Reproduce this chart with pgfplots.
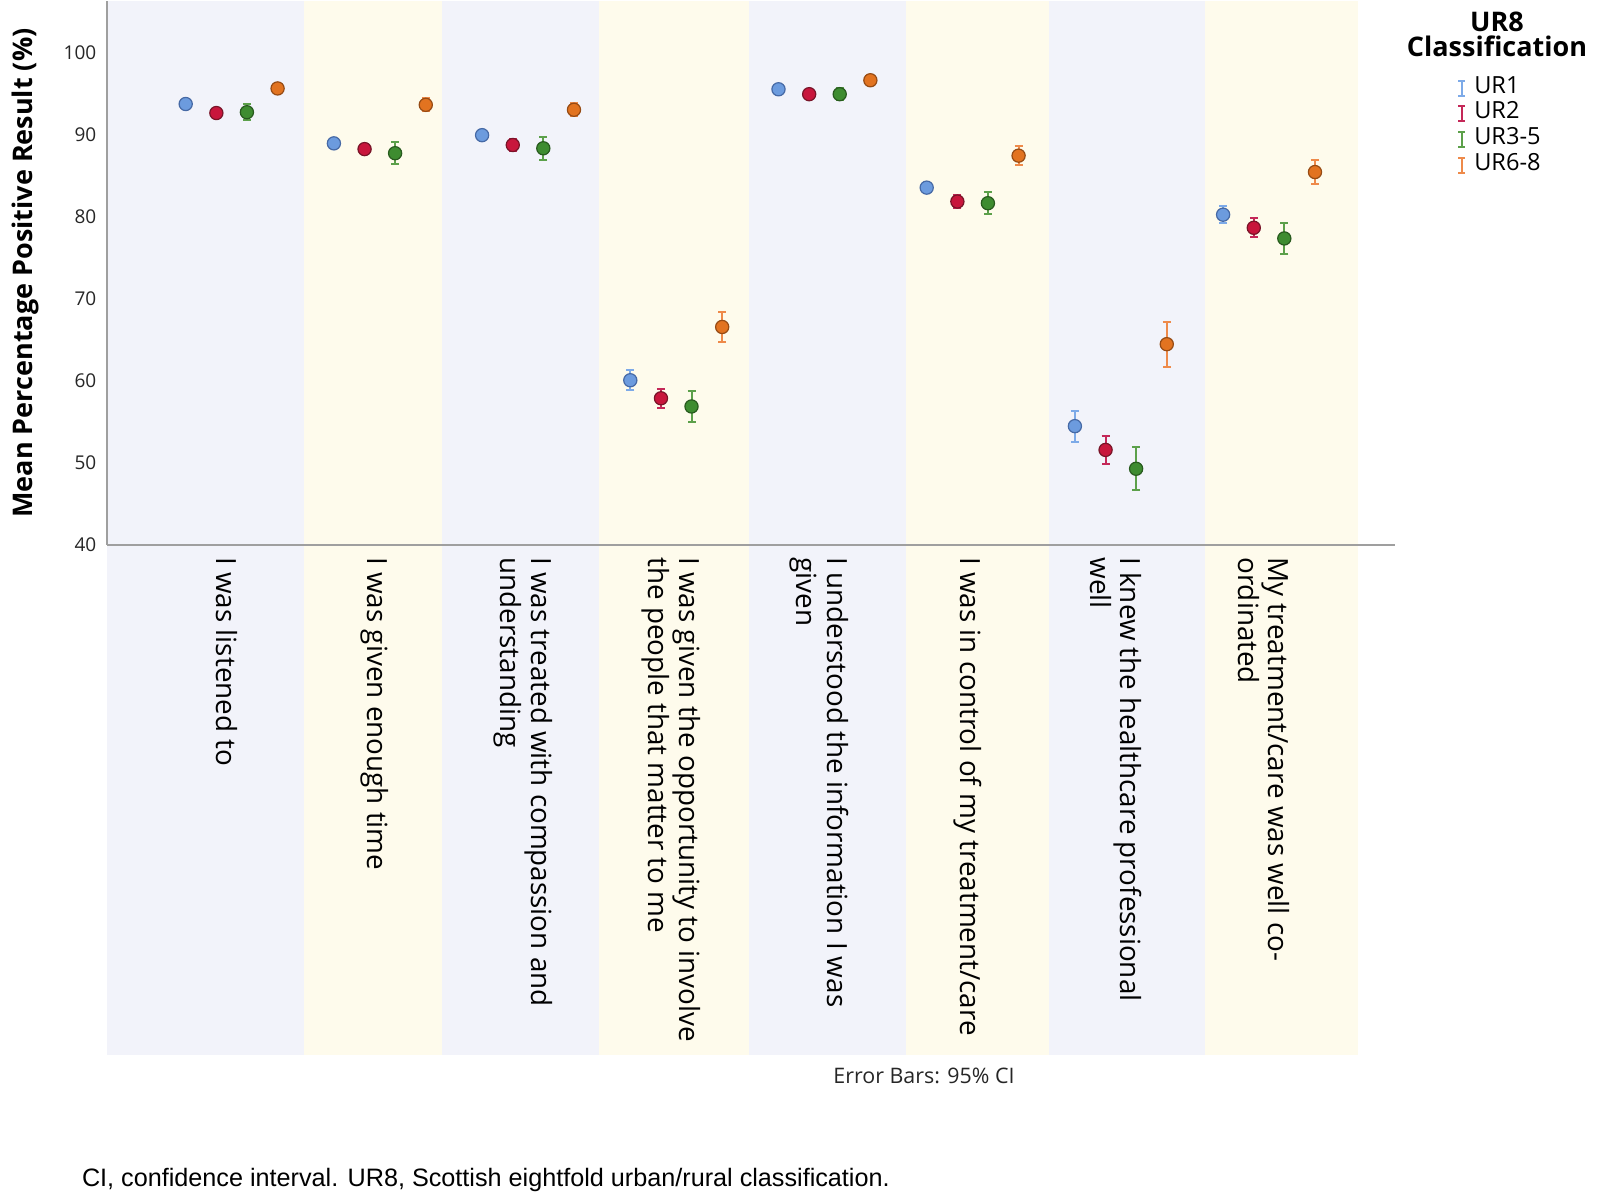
\documentclass[border=0pt]{standalone}
\usepackage{fontspec}
\setmainfont{Open Sans}
\newfontfamily\capfont{Liberation Sans}
\usepackage{pgfplots}
\pgfplotsset{compat=1.18}
\definecolor{lav}{RGB}{242,243,250}
\definecolor{crm}{RGB}{254,251,236}
\definecolor{ur1fill}{RGB}{108,155,222}
\definecolor{ur1line}{RGB}{70,105,165}
\definecolor{ur1bar}{RGB}{125,170,232}
\definecolor{ur2fill}{RGB}{200,22,60}
\definecolor{ur2line}{RGB}{120,20,40}
\definecolor{ur2bar}{RGB}{196,40,88}
\definecolor{ur3fill}{RGB}{62,140,48}
\definecolor{ur3line}{RGB}{40,90,30}
\definecolor{ur3bar}{RGB}{92,160,74}
\definecolor{ur6fill}{RGB}{226,115,32}
\definecolor{ur6line}{RGB}{150,75,20}
\definecolor{ur6bar}{RGB}{238,138,74}
\pgfplotsset{
  ser/.style n args={3}{
    only marks, mark=*, mark size=3.3pt,
    mark options={fill=#1, draw=#2, line width=0.6pt},
    legend image code/.code={\draw[#3, line width=1pt] (0pt,-3.75pt)--(3.5pt,-3.75pt) (1.75pt,-3.75pt)--(1.75pt,3.75pt) (0pt,3.75pt)--(3.5pt,3.75pt);},
    error bars/.cd, y dir=both, y explicit,
    error bar style={#3, line width=1pt},
    error mark=|,
    error mark options={#3, mark size=2pt, line width=1pt}
  },
  band/.style={on layer=axis background, fill=#1, draw=none, forget plot}
}
\begin{document}
\begin{tikzpicture}
\path (0,0) rectangle (800pt,599pt);
\begin{axis}[
  at={(53.5pt,327pt)}, anchor=south west,
  scale only axis, width=644pt, height=272pt,
  xmin=-0.841, xmax=7.85, ymin=40, ymax=106.37,
  clip=false, set layers,
  axis x line*=bottom, axis y line*=left,
  axis line style={-, draw=gray!75, line width=1pt},
  major tick length=0pt,
  xtick={0,1,2,3,4,5,6,7},
  xticklabels={{I was listened to},{I was given enough time},{I was treated with compassion and\\understanding},{I was given the opportunity to involve\\the people that matter to me},{I understood the information I was\\given},{I was in control of my treatment/care},{I knew the healthcare professional\\well},{My treatment/care was well co-\\ordinated}},
  xticklabel style={font=\fontsize{13.9}{15.3}\selectfont, inner sep=0pt, yshift=-6pt, xshift=-2.5pt, rotate=-90, anchor=west, align=left, text=black},
  ytick={40,50,60,70,80,90,100},
  yticklabel style={font=\fontsize{9.5}{11}\selectfont, xshift=-1.8pt, text=black!85},
  /pgf/number format/assume math mode=true,
  ylabel={Mean Percentage Positive Result (\%)},
  ylabel style={font=\bfseries\fontsize{13.5}{16}\selectfont, at={(axis description cs:-0.0633,0.5)}, anchor=center},
  legend style={draw=none, fill=none, inner sep=0pt, at={(1.048,0.8616)}, anchor=north west,
    font=\fontsize{11.8}{13}\selectfont, nodes={inner ysep=0.7pt, text height=0.75em, text depth=0.25em},
    row sep=1.55pt, /tikz/every odd column/.append style={column sep=2pt}},
  legend cell align=left,
]
\addplot[band=lav] coordinates {(-0.841,-22.2) (0.489,-22.2) (0.489,106.37) (-0.841,106.37)} -- cycle;
\addplot[band=crm] coordinates {(0.489,-22.2) (1.419,-22.2) (1.419,106.37) (0.489,106.37)} -- cycle;
\addplot[band=lav] coordinates {(1.419,-22.2) (2.480,-22.2) (2.480,106.37) (1.419,106.37)} -- cycle;
\addplot[band=crm] coordinates {(2.480,-22.2) (3.492,-22.2) (3.492,106.37) (2.480,106.37)} -- cycle;
\addplot[band=lav] coordinates {(3.492,-22.2) (4.553,-22.2) (4.553,106.37) (3.492,106.37)} -- cycle;
\addplot[band=crm] coordinates {(4.553,-22.2) (5.517,-22.2) (5.517,106.37) (4.553,106.37)} -- cycle;
\addplot[band=lav] coordinates {(5.517,-22.2) (6.570,-22.2) (6.570,106.37) (5.517,106.37)} -- cycle;
\addplot[band=crm] coordinates {(6.570,-22.2) (7.597,-22.2) (7.597,106.37) (6.570,106.37)} -- cycle;

\addplot[ser={ur1fill}{ur1line}{ur1bar}] table[x=x,y=y,y error=e] {
x y e
-0.31 93.8 0.5
0.69 89.0 0.5
1.69 90.0 0.5
2.69 60.1 1.2
3.69 95.6 0.5
4.69 83.6 0.5
5.69 54.5 1.9
6.69 80.3 1.0
};
\addlegendentry{UR1}
\addplot[ser={ur2fill}{ur2line}{ur2bar}] table[x=x,y=y,y error=e] {
x y e
-0.103 92.7 0.5
0.897 88.3 0.6
1.897 88.8 0.7
2.897 57.9 1.15
3.897 95.0 0.5
4.897 81.9 0.8
5.897 51.6 1.75
6.897 78.7 1.15
};
\addlegendentry{UR2}
\addplot[ser={ur3fill}{ur3line}{ur3bar}] table[x=x,y=y,y error=e] {
x y e
0.103 92.8 1.0
1.103 87.8 1.35
2.103 88.4 1.4
3.103 56.9 1.85
4.103 95.0 0.7
5.103 81.7 1.35
6.103 49.3 2.65
7.103 77.4 1.85
};
\addlegendentry{UR3-5}
\addplot[ser={ur6fill}{ur6line}{ur6bar}] table[x=x,y=y,y error=e] {
x y e
0.31 95.7 0.6
1.31 93.7 0.8
2.31 93.1 0.8
3.31 66.6 1.85
4.31 96.7 0.6
5.31 87.5 1.15
6.31 64.5 2.75
7.31 85.5 1.45
};
\addlegendentry{UR6-8}
\end{axis}
\node[font=\bfseries\fontsize{13.5}{12.8}\selectfont, align=center, inner sep=0pt] at (748.5pt,582.4pt) {UR8\\Classification};
\node[font=\fontsize{10.7}{12}\selectfont, inner sep=0pt, text=black!85] at (462pt,61.5pt) {Error Bars: 95\% CI};
\node[anchor=west, font=\capfont\fontsize{12.6}{14}\selectfont, inner sep=0pt] at (40.8pt,9.7pt) {CI, confidence interval. UR8, Scottish eightfold urban/rural classification.};
\end{tikzpicture}
\end{document}
